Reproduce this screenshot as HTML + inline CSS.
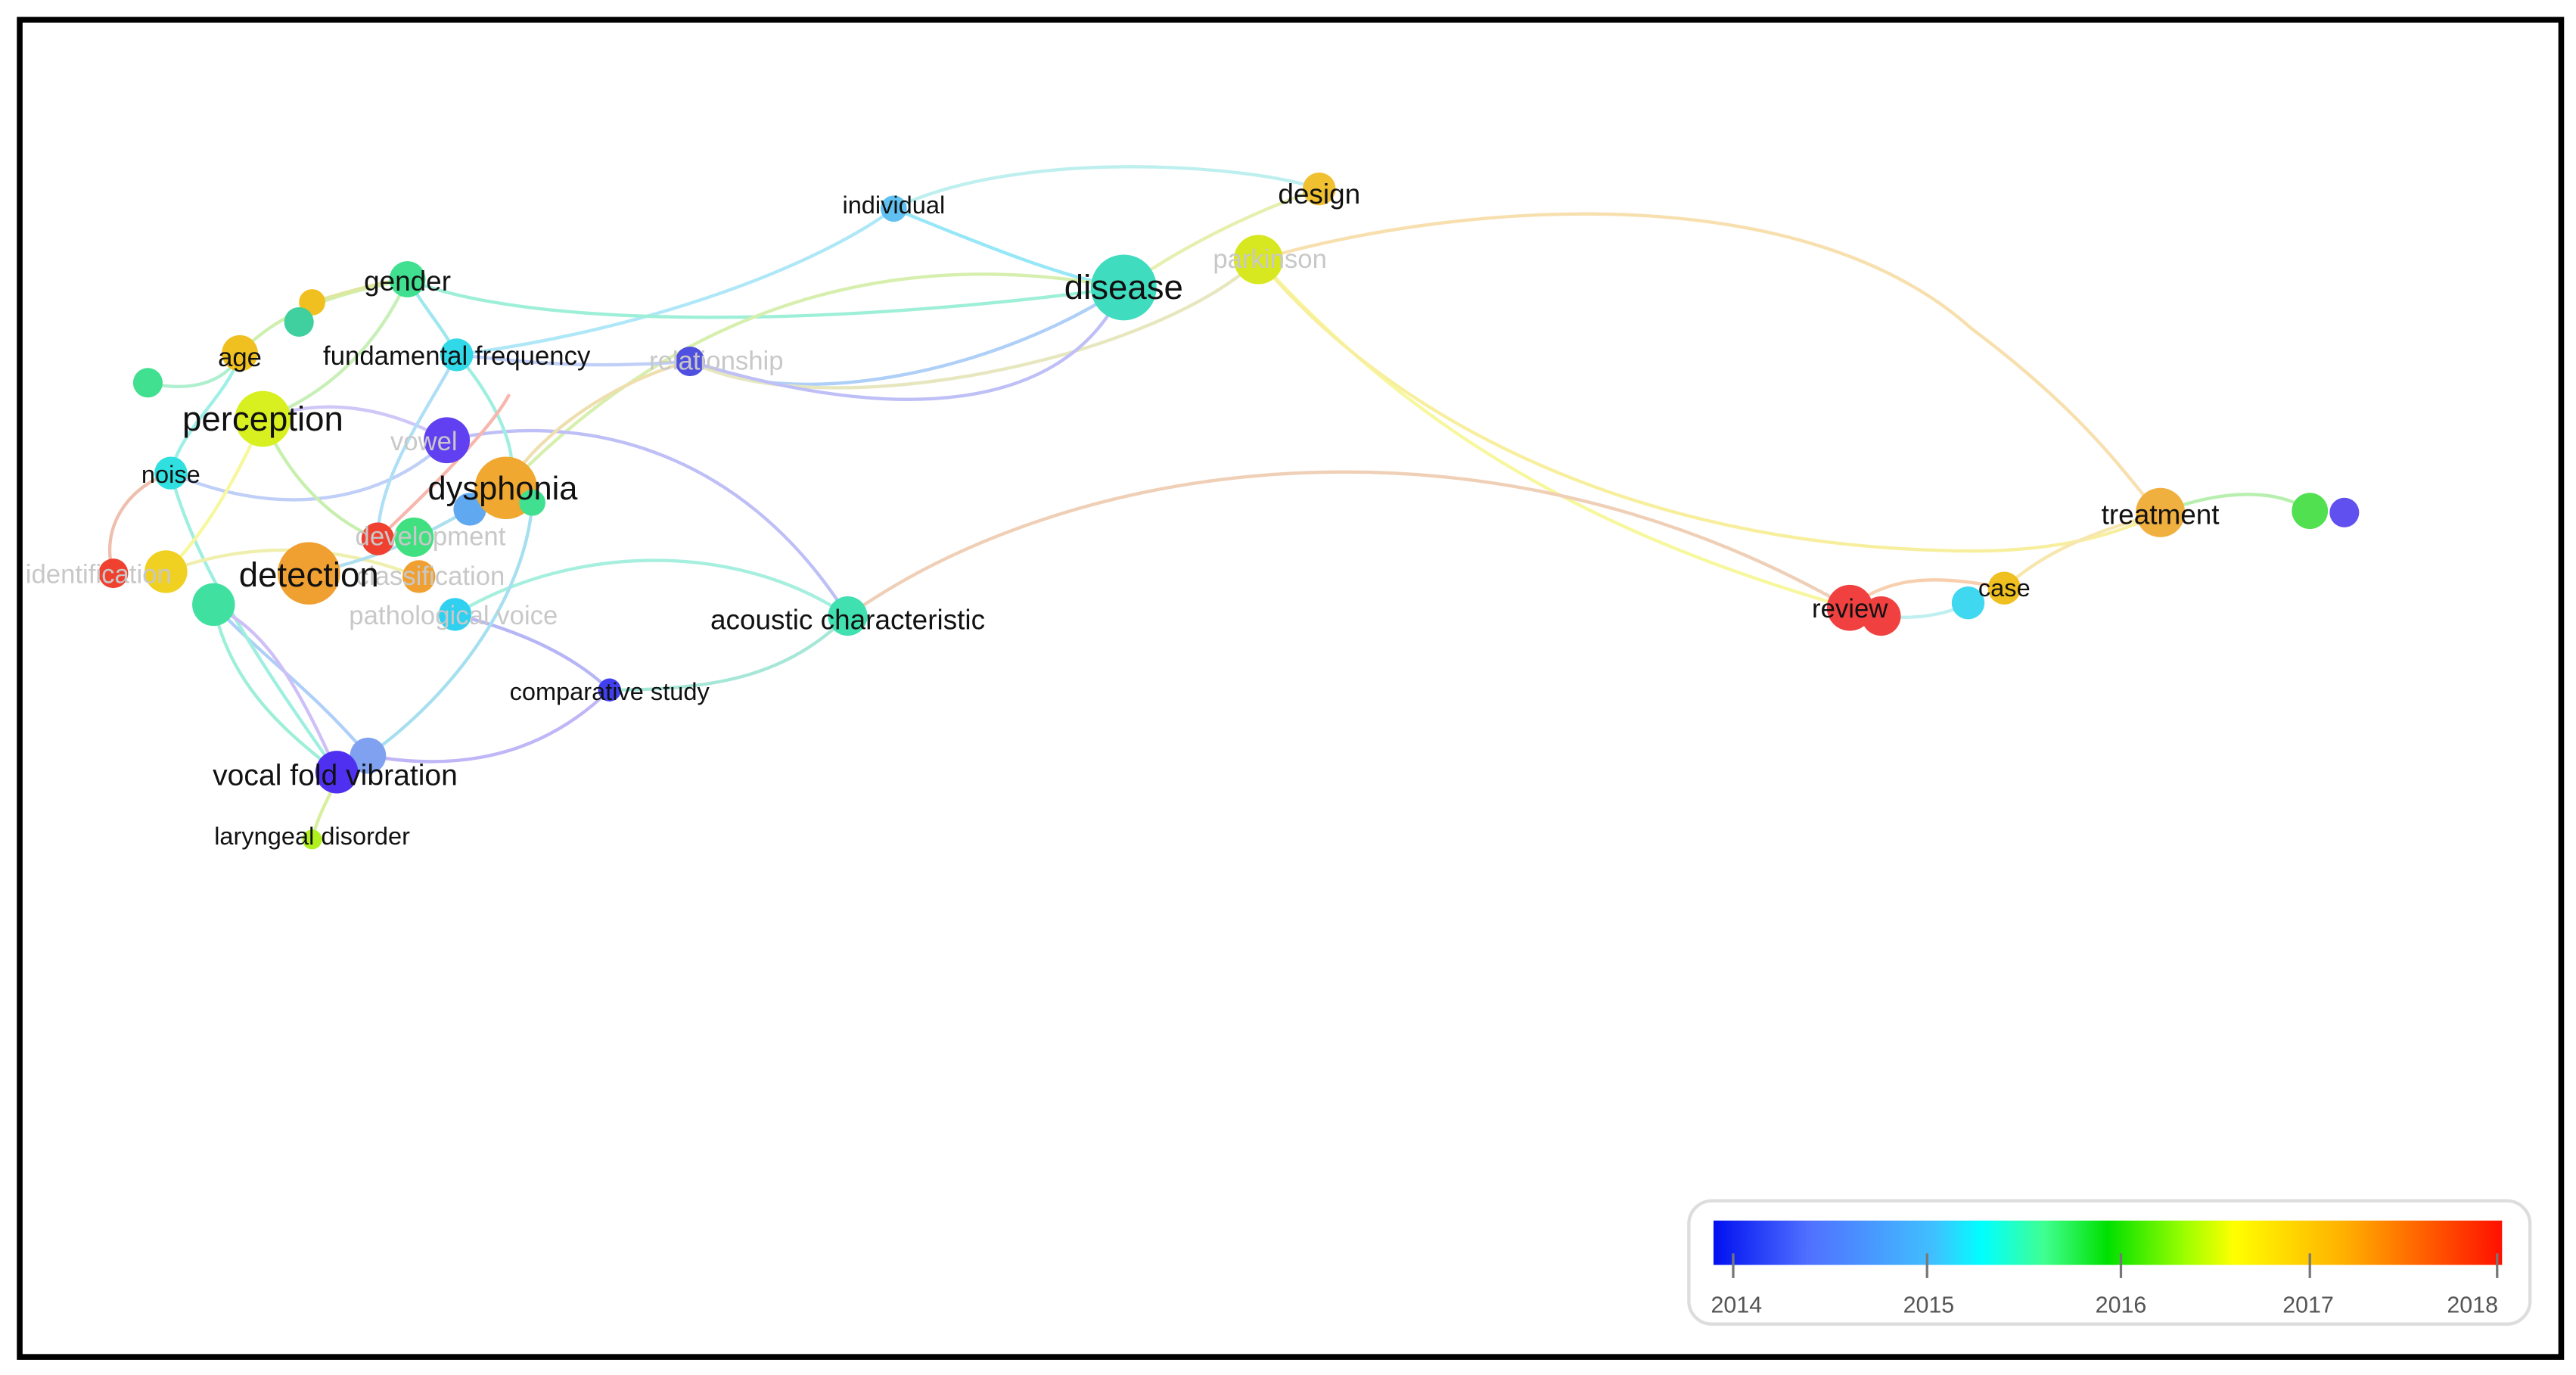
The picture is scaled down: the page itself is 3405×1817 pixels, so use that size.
<!DOCTYPE html>
<html><head><style>html,body{margin:0;padding:0;background:#fff}svg{display:block}</style></head>
<body>
<svg width="3405" height="1817" viewBox="0 0 1568 837" preserveAspectRatio="none" xmlns="http://www.w3.org/2000/svg" font-family="Liberation Sans, sans-serif">
<defs>
<linearGradient id="g" x1="0" x2="1">
<stop offset="0" stop-color="#0010f0"/><stop offset="0.12" stop-color="#5070ff"/><stop offset="0.28" stop-color="#40c0ff"/><stop offset="0.34" stop-color="#00ffff"/><stop offset="0.42" stop-color="#40ff90"/><stop offset="0.5" stop-color="#00e000"/><stop offset="0.6" stop-color="#a0ff00"/><stop offset="0.66" stop-color="#ffff00"/><stop offset="0.8" stop-color="#ffb000"/><stop offset="1" stop-color="#ff1000"/>
</linearGradient>
</defs>
<rect x="0" y="0" width="1568" height="837" fill="#fff"/>
<rect x="12" y="12" width="1547" height="814" fill="none" stroke="#000" stroke-width="3.5"/>
<g fill="none" stroke-width="2" opacity="0.5">
<path d="M544,127 C620,90 760,100 803,115" stroke="#7fe0e0"/>
<path d="M544,127 C500,160 400,200 278,216" stroke="#60d0f0"/>
<path d="M544,127 C600,150 650,170 684,175" stroke="#30d0f0"/>
<path d="M684,175 C500,200 320,200 248,170" stroke="#40e0b0"/>
<path d="M684,175 C600,230 480,250 420,220" stroke="#60a0f0"/>
<path d="M684,175 C600,160 450,150 308,297" stroke="#b0e060"/>
<path d="M766,158 C700,220 500,260 420,220" stroke="#d0d080"/>
<path d="M766,158 C900,120 1100,110 1200,200 C1280,260 1300,300 1315,312" stroke="#f0c060"/>
<path d="M766,158 C850,250 950,320 1126,370" stroke="#f0f040"/>
<path d="M766,158 C850,260 1000,330 1180,335 C1250,338 1290,325 1315,312" stroke="#f0e040"/>
<path d="M803,115 C760,130 720,150 684,175" stroke="#d0e060"/>
<path d="M516,375 C650,280 900,240 1126,370" stroke="#e0a070"/>
<path d="M1126,370 C1150,350 1180,350 1220,358" stroke="#f0a060"/>
<path d="M1145,375 C1170,378 1190,372 1198,367" stroke="#80e0e0"/>
<path d="M1220,358 C1250,330 1290,320 1315,312" stroke="#f0d060"/>
<path d="M1315,312 C1360,295 1390,300 1406,311" stroke="#70e060"/>
<path d="M420,220 C350,225 320,220 278,216" stroke="#80a0f0"/>
<path d="M420,220 C550,260 650,250 684,175" stroke="#8080f0"/>
<path d="M272,268 C350,250 450,270 516,375" stroke="#8080f0"/>
<path d="M277,374 C350,330 450,330 516,375" stroke="#50e0c0"/>
<path d="M516,375 C480,410 440,420 371,420" stroke="#50d0b0"/>
<path d="M371,420 C330,460 280,470 224,460" stroke="#8070f0"/>
<path d="M277,374 C320,385 350,400 371,420" stroke="#7070f0"/>
<path d="M224,460 C280,420 320,360 324,306" stroke="#50c0e0"/>
<path d="M130,368 C140,420 180,450 205,470" stroke="#40e0b0"/>
<path d="M130,368 C160,400 190,420 224,460" stroke="#60a0f0"/>
<path d="M104,288 C120,350 170,420 205,470" stroke="#40e0c0"/>
<path d="M130,368 C150,380 170,390 205,470" stroke="#a080f0"/>
<path d="M190,511 C195,490 205,480 205,470" stroke="#b0e040"/>
<path d="M104,288 C180,320 240,300 272,268" stroke="#80a0f0"/>
<path d="M160,255 C200,240 240,250 272,268" stroke="#a090f0"/>
<path d="M160,255 C180,300 210,320 230,328" stroke="#90e060"/>
<path d="M160,255 C140,300 120,330 101,348" stroke="#f0f040"/>
<path d="M69,349 C60,320 80,295 104,288" stroke="#e08060"/>
<path d="M248,170 C200,180 170,190 146,215" stroke="#a0e060"/>
<path d="M248,170 C230,210 200,240 160,255" stroke="#90e070"/>
<path d="M248,170 C260,190 270,200 278,216" stroke="#40d0e0"/>
<path d="M278,216 C300,240 320,280 308,297" stroke="#40e0c0"/>
<path d="M278,216 C260,250 230,290 230,328" stroke="#60c0f0"/>
<path d="M90,233 C120,240 140,230 146,215" stroke="#60e0a0"/>
<path d="M104,288 C110,260 140,240 146,215" stroke="#40e0d0"/>
<path d="M101,348 C150,330 200,330 255,351" stroke="#e0e060"/>
<path d="M188,349 C230,340 250,330 286,310" stroke="#60c0e0"/>
<path d="M308,297 C330,260 380,230 420,220" stroke="#e0c060"/>
<path d="M230,328 C260,300 300,260 310,240" stroke="#f07060"/>
<path d="M190,184 C220,175 240,170 248,170" stroke="#c0d040"/>
</g>
<g>
<circle cx="544" cy="127" r="8" fill="#60c0f0"/>
<circle cx="803" cy="115" r="10" fill="#f0c030"/>
<circle cx="684" cy="175" r="20" fill="#40dcc0"/>
<circle cx="766" cy="158" r="15" fill="#d8e820"/>
<circle cx="420" cy="220" r="9" fill="#5050e0"/>
<circle cx="248" cy="170" r="11" fill="#40e090"/>
<circle cx="190" cy="184" r="8" fill="#f0c020"/>
<circle cx="182" cy="196" r="9" fill="#40d0a0"/>
<circle cx="146" cy="215" r="11" fill="#f0c020"/>
<circle cx="278" cy="216" r="10" fill="#30d8e8"/>
<circle cx="90" cy="233" r="9" fill="#40e090"/>
<circle cx="160" cy="255" r="17" fill="#d8f020"/>
<circle cx="272" cy="268" r="14" fill="#6040f0"/>
<circle cx="104" cy="288" r="10" fill="#30e0e0"/>
<circle cx="286" cy="310" r="10" fill="#60a8f0"/>
<circle cx="308" cy="297" r="19" fill="#f0a830"/>
<circle cx="324" cy="306" r="8" fill="#40e090"/>
<circle cx="230" cy="328" r="10" fill="#f04030"/>
<circle cx="252" cy="327" r="12" fill="#40e080"/>
<circle cx="188" cy="349" r="19" fill="#f0a030"/>
<circle cx="255" cy="351" r="10" fill="#f0a030"/>
<circle cx="69" cy="349" r="9" fill="#f04030"/>
<circle cx="101" cy="348" r="13" fill="#f0d020"/>
<circle cx="130" cy="368" r="13" fill="#40e0a0"/>
<circle cx="277" cy="374" r="10" fill="#30d0f0"/>
<circle cx="516" cy="375" r="12" fill="#40e0b0"/>
<circle cx="371" cy="420" r="7" fill="#4040f0"/>
<circle cx="224" cy="460" r="11" fill="#80a0f0"/>
<circle cx="205" cy="470" r="13" fill="#5030f0"/>
<circle cx="190" cy="511" r="6" fill="#b0f020"/>
<circle cx="1315" cy="312" r="15" fill="#f0b040"/>
<circle cx="1406" cy="311" r="11" fill="#50e050"/>
<circle cx="1427" cy="312" r="9" fill="#6050f0"/>
<circle cx="1126" cy="370" r="14" fill="#f04040"/>
<circle cx="1145" cy="375" r="12" fill="#f04040"/>
<circle cx="1198" cy="367" r="10" fill="#40d8f0"/>
<circle cx="1220" cy="358" r="10" fill="#f0c020"/>
</g>
<g fill="#c8c8c8" font-size="16" text-anchor="middle">
<text x="773" y="163">parkinson</text>
<text x="436" y="225">relationship</text>
<text x="258" y="274">vowel</text>
<text x="262" y="332">development</text>
<text x="262" y="356">classification</text>
<text x="276" y="380">pathological voice</text>
<text x="60" y="355">identification</text>
</g>
<g fill="#111" text-anchor="middle">
<text x="544" y="130" font-size="15">individual</text>
<text x="803" y="124" font-size="17">design</text>
<text x="684" y="182" font-size="21">disease</text>
<text x="248" y="177" font-size="17">gender</text>
<text x="146" y="223" font-size="16">age</text>
<text x="278" y="222" font-size="16">fundamental frequency</text>
<text x="160" y="262" font-size="21">perception</text>
<text x="104" y="294" font-size="15">noise</text>
<text x="306" y="304" font-size="20">dysphonia</text>
<text x="188" y="357" font-size="21">detection</text>
<text x="516" y="383" font-size="17">acoustic characteristic</text>
<text x="371" y="426" font-size="15">comparative study</text>
<text x="204" y="478" font-size="18">vocal fold vibration</text>
<text x="190" y="514" font-size="15">laryngeal disorder</text>
<text x="1315" y="319" font-size="17">treatment</text>
<text x="1126" y="376" font-size="16">review</text>
<text x="1220" y="363" font-size="15">case</text>
</g>
<rect x="1028" y="731" width="512" height="75" rx="14" fill="#fff" stroke="#ddd" stroke-width="2"/>
<rect x="1043" y="743" width="480" height="27" fill="url(#g)"/>
<g stroke="#777" stroke-width="1.5">
<line x1="1055" y1="763" x2="1055" y2="778"/><line x1="1173" y1="763" x2="1173" y2="778"/><line x1="1291" y1="763" x2="1291" y2="778"/><line x1="1406" y1="763" x2="1406" y2="778"/><line x1="1520" y1="763" x2="1520" y2="778"/>
</g>
<g fill="#555" font-size="14" text-anchor="middle">
<text x="1057" y="799">2014</text><text x="1174" y="799">2015</text><text x="1291" y="799">2016</text><text x="1405" y="799">2017</text><text x="1505" y="799">2018</text>
</g>
</svg>
</body></html>
